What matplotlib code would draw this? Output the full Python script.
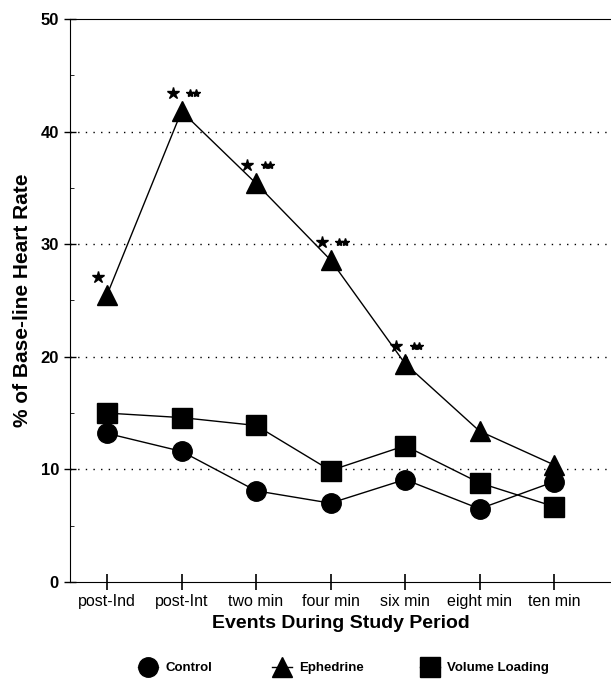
import matplotlib
matplotlib.use("Agg")
import matplotlib.pyplot as plt

plt.rcParams['font.family'] = ['Liberation Sans', 'DejaVu Sans']

events = ["post-Ind", "post-Int", "two min", "four min", "six min", "eight min", "ten min"]
control = [13.2, 11.6, 8.1, 7.0, 9.1, 6.5, 8.9]
ephedrine = [25.5, 41.8, 35.4, 28.6, 19.4, 13.4, 10.4]
volume = [15.0, 14.6, 13.9, 9.9, 12.1, 8.8, 6.7]
signif = ["*", "* **", "* **", "* **", "* **", "", ""]

fig = plt.figure(figsize=(6.11, 6.93), dpi=100)
ax = fig.add_axes([0.1146, 0.1602, 0.8854, 0.8124])

x = list(range(len(events)))
l1, = ax.plot(x, control, color="black", lw=1, marker="o", ms=14, label="Control")
l2, = ax.plot(x, ephedrine, color="black", lw=1, marker="^", ms=15, label="Ephedrine")
l3, = ax.plot(x, volume, color="black", lw=1, marker="s", ms=14, label="Volume Loading")

# significance stars above ephedrine points
for xi, yi, s in zip(x, ephedrine, signif):
    if not s:
        continue
    ax.plot(xi - 0.12, yi + 1.6, marker="*", color="black", ms=9, ls="none")
    if s == "* **":
        ax.plot([xi + 0.12, xi + 0.19], [yi + 1.6, yi + 1.6], marker="*", color="black", ms=6, ls="none")

ax.set_xlim(-0.497, 6.765)
ax.set_ylim(0, 50)
ax.set_yticks([0, 10, 20, 30, 40, 50])
ax.set_yticks([5, 15, 25, 35, 45], minor=True)
ax.set_xticks(x)
ax.set_xticklabels(events)
for yv in [10, 20, 30, 40]:
    ax.axhline(yv, color="black", lw=1, ls=(0, (1, 4.5)))

ax.spines["right"].set_visible(False)
ax.tick_params(axis="x", direction="inout", length=12, width=1.2, labelsize=11.5, pad=3)
ax.tick_params(axis="y", which="major", direction="inout", length=8, width=1, labelsize=12, pad=4)
ax.tick_params(axis="y", which="minor", direction="in", length=3)
for lbl in ax.get_yticklabels():
    lbl.set_fontweight("bold")

ax.set_xlabel("Events During Study Period", fontsize=14, fontweight="bold", labelpad=4)
ax.set_ylabel("% of Base-line Heart Rate", fontsize=15, fontweight="bold", labelpad=6)

# legend entries placed one by one, as in the original layout
for h, x0 in [(l1, 0.226), (l2, 0.445), (l3, 0.687)]:
    fig.legend(handles=[h], loc="center left", bbox_to_anchor=(x0, 0.036), frameon=False,
               borderpad=0, borderaxespad=0, handlelength=1.5, handletextpad=0.6,
               prop={"size": 9.5, "weight": "bold"})

fig.savefig("out.png", dpi=100)
